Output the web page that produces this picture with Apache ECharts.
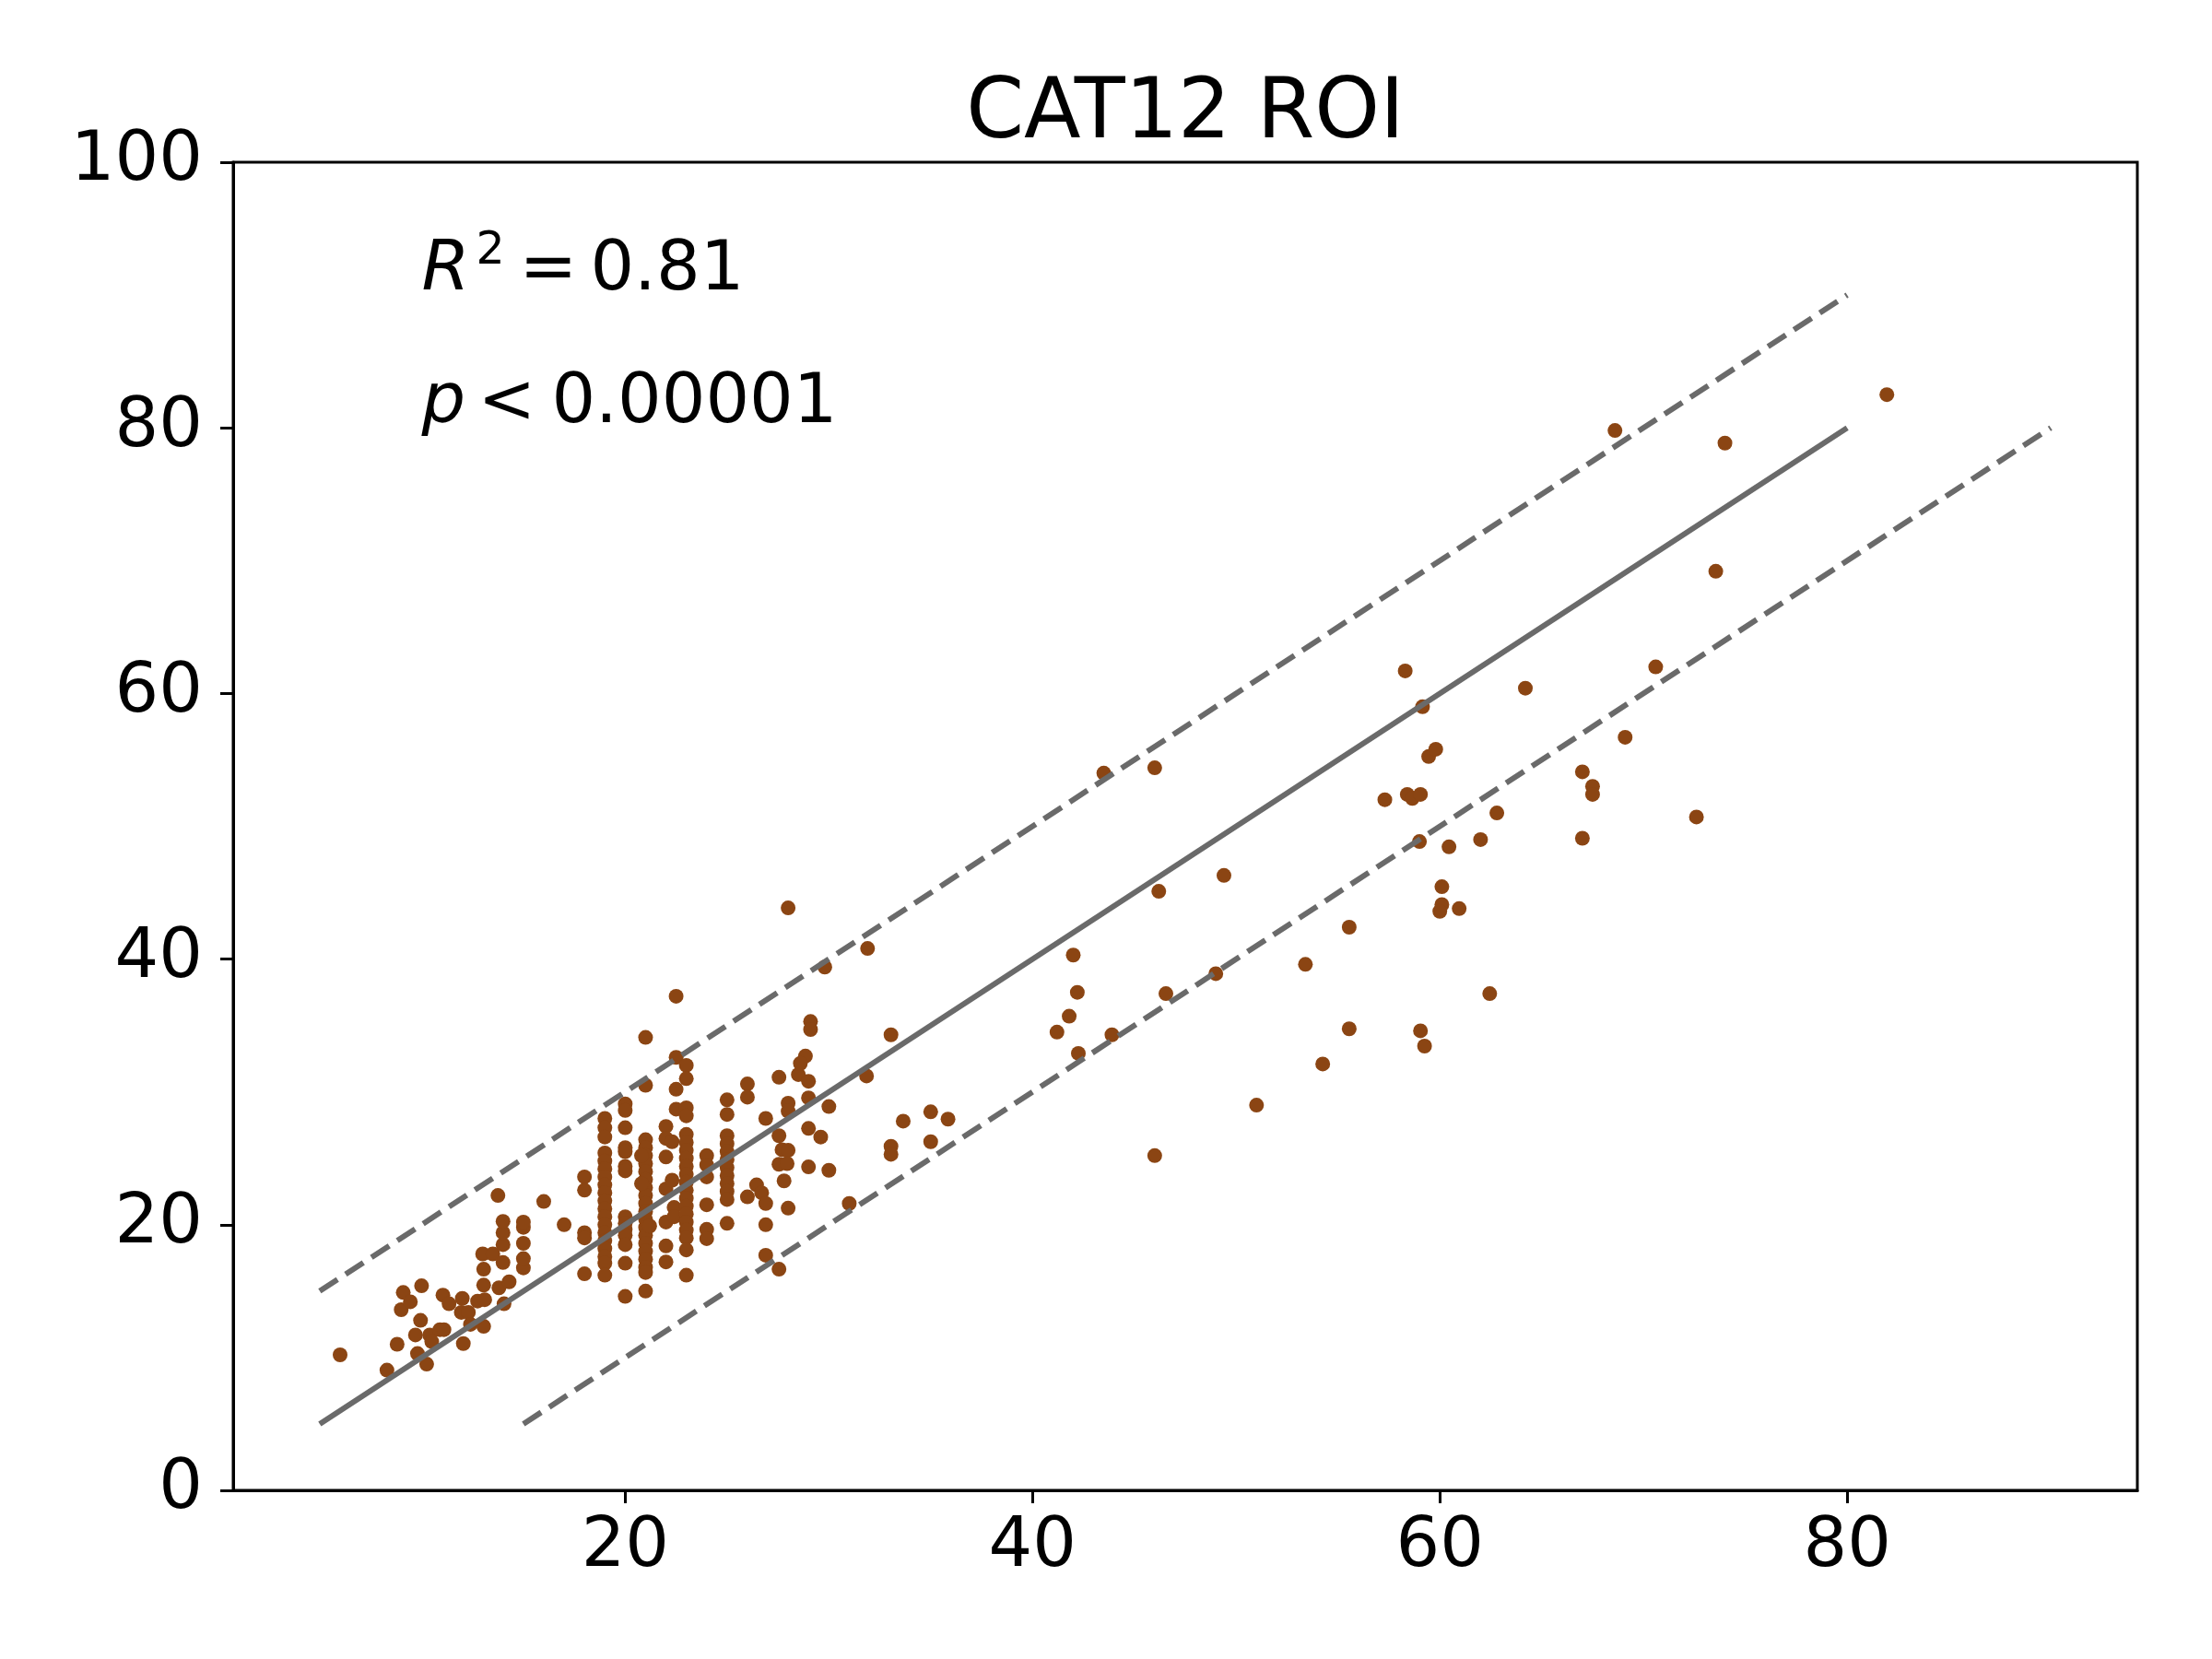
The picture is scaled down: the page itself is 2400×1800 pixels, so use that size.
<!DOCTYPE html>
<html><head><meta charset="utf-8">
<script src="https://cdn.jsdelivr.net/npm/echarts@6/dist/echarts.min.js"></script>
<style>html,body{margin:0;background:#fff}#c{width:2400px;height:1800px}</style>
</head><body><div id="c"></div>
<script>
// ---- data ----
const lowGroup = [
  [6.0,10.2],[8.3,9.05],[8.8,11.0],[9.0,13.6],[9.1,14.9],[9.45,14.2],[9.7,11.7],[9.8,10.3],
  [9.95,12.8],[10.0,15.4],[10.25,9.5],[10.4,11.7],[10.5,11.2],[10.9,12.1],[11.1,12.1],[11.05,14.7],
  [11.35,14.05],[11.95,13.4],[12.0,14.45],[12.05,11.05],[12.3,13.4],[12.4,12.5],[12.75,14.25],
  [13.05,12.35],[13.1,14.35],[13.05,15.45],[13.05,16.65],[13.0,17.8],[13.5,17.8],[13.75,22.2],
  [13.8,15.25],[14.0,17.15],[14.05,14.05],[14.3,15.7],[14.0,18.5],[14.0,19.4],[14.0,20.25],
  [15.0,16.75],[15.0,17.45],[15.0,18.6],[15.0,19.8],[15.0,20.2],[16.0,21.75],[17.0,20.0]
];
const midGroup = [
  [18,23.6],[18,22.6],[18,19.4],[18,19.0],[18,16.3],
  [19,28.0],[19,27.3],[19,26.6],[19,25.4],[19,24.8],[19,24.2],[19,23.6],[19,23.0],[19,22.4],[19,21.8],
  [19,21.2],[19,20.6],[19,20.0],[19,19.4],[19,18.8],[19,18.2],[19,17.6],[19,17.1],[19,16.2],
  [20,29.1],[20,28.6],[20,27.3],[20,25.8],[20,25.5],[20,24.4],[20,24.05],[20,20.6],[20,20.1],
  [20,19.65],[20,19.2],[20,18.5],[20,17.1],[20,14.6],
  [21,34.1],[21,30.5],[21,26.4],[21,25.8],[21,25.2],[21,24.6],[21,24.0],[21,23.4],[21,22.8],[21,22.2],
  [21,21.6],[21,21.0],[21,20.4],[21,19.8],[21,19.2],[21,18.6],[21,18.0],[21,17.4],[21,16.8],[21,16.4],
  [21,15.0],[20.8,25.2],[20.8,23.1],[21.2,19.9],
  [22,27.4],[22,26.5],[22,25.1],[22,22.7],[22,20.2],[22,18.4],[22,17.2],
  [22.3,26.25],[22.3,23.35],[22.4,21.3],[22.4,20.6],
  [22.5,37.2],[22.5,32.6],[22.5,30.2],[22.5,28.7],
  [23,32.0],[23,31.0],[23,28.8],[23,28.2],[23,26.8],[23,26.2],[23,25.6],[23,25.0],[23,24.4],[23,23.8],
  [23,23.2],[23,22.6],[23,22.0],[23,21.4],[23,20.8],[23,20.2],[23,19.6],[23,19.0],[23,18.1],[23,16.2],
  [24,25.2],[24,24.5],[24,23.6],[24,21.5],[24,19.65],[24,18.95],
  [25,29.4],[25,28.3],[25,26.7],[25,26.1],[25,25.5],[25,24.9],[25,24.3],[25,23.7],[25,23.1],[25,22.5],
  [25,21.9],[25,20.1],
  [26,30.6],[26,29.6],[26,22.1],
  [26.45,23.0],[26.7,22.4],[26.9,21.6],[26.9,28.0],[26.9,20.0],[26.9,17.7],
  [27.55,31.1],[28.5,31.3],[29.0,30.8],[28.85,32.7],[28.6,32.15],[29.1,35.3],[29.1,34.7],[28.0,43.85],
  [29.8,39.4],[31.9,40.8],[33.05,34.3],[31.85,31.2],[28.0,29.15],[28.0,28.55],[29.0,29.55],[30.0,28.9],
  [29.0,27.25],[29.6,26.6],[27.55,26.7],[27.7,25.65],[28.0,25.6],[27.55,24.55],[27.95,24.6],[29.0,24.35],
  [30.0,24.1],[27.8,23.3],[28.0,21.25],[31.0,21.6],[33.65,27.8],[35.0,28.5],[35.85,27.95],[35.0,26.25],
  [33.05,25.9],[33.05,25.3],[27.55,16.65]
];
const highGroup = [
  [43.5,54.0],[46.0,54.4],[46.2,45.1],[49.4,46.3],[42.0,40.3],[42.2,37.5],[41.8,35.7],[41.2,34.5],
  [42.25,32.9],[43.9,34.3],[46.55,37.4],[49.0,38.9],[46.0,25.2],[51.0,29.0],[53.4,39.6],[55.55,42.4],
  [54.25,32.1],[55.55,34.75],[57.3,52.0],[58.3,61.7],[58.4,52.4],[58.65,52.1],[59.05,52.4],[59.15,59.0],
  [59.45,55.25],[59.8,55.8],[59.0,48.85],[60.45,48.45],[60.1,45.45],[60.1,44.1],[60.0,43.6],[60.95,43.8],
  [59.05,34.6],[59.25,33.45],[62.0,49.0],[62.8,51.0],[62.45,37.4],[64.2,60.4],[67.0,54.1],[67.5,53.0],
  [67.5,52.4],[67.0,49.1],[69.1,56.7],[68.6,79.8],[70.6,62.0],[72.6,50.7],[73.55,69.2],[74.0,78.85],
  [81.95,82.5]
];
const identityX = [5, 80], identityY = [5, 80];
const upperX = [5, 80], upperY = [15, 90];
const lowerX = [15, 90], lowerY = [5, 80];
const xRange = [0.75, 94.25];
const xTicks = [20, 40, 60, 80];
const yRange = [0, 100];
const yStep = 20;
const titleText = 'CAT12 ROI';
const r2Value = '0.81';
const pValue = '0.00001';

// ---- chart ----
const FONT = 'DejaVu Sans';
const GRAY = '#6a6a6a';
const BROWN = '#8B4513';
const chart = echarts.init(document.getElementById('c'), null, {renderer: 'canvas'});
const zip = (xs, ys) => xs.map((x, i) => [x, ys[i]]);
const axisCommon = {
  axisLine: {show: true, onZero: false, lineStyle: {color: '#000', width: 3}},
  axisTick: {show: true, inside: false, length: 14, lineStyle: {color: '#000', width: 3}},
  splitLine: {show: false},
};
chart.setOption({
  animation: false,
  backgroundColor: '#fff',
  grid: {left: 253, right: 81, top: 176, bottom: 183, show: true, borderColor: '#000', borderWidth: 3, backgroundColor: 'transparent'},
  xAxis: Object.assign({}, axisCommon, {
    type: 'value', min: xRange[0], max: xRange[1],
    axisTick: Object.assign({}, axisCommon.axisTick, {customValues: xTicks}),
    axisLabel: {customValues: xTicks, fontFamily: FONT, fontSize: 75, color: '#000', margin: 25},
  }),
  yAxis: Object.assign({}, axisCommon, {
    type: 'value', min: yRange[0], max: yRange[1], interval: yStep,
    axisLabel: {fontFamily: FONT, fontSize: 75, color: '#000', margin: 33},
  }),
  series: [
    {type: 'scatter', data: lowGroup.concat(midGroup, highGroup), symbolSize: 16,
     itemStyle: {color: BROWN, opacity: 1}, z: 2},
    {type: 'line', data: zip(identityX, identityY), symbol: 'none', lineStyle: {color: GRAY, width: 6}, z: 3},
    {type: 'line', data: zip(upperX, upperY), symbol: 'none', lineStyle: {color: GRAY, width: 6, type: [23, 10.5]}, z: 3},
    {type: 'line', data: zip(lowerX, lowerY), symbol: 'none', lineStyle: {color: GRAY, width: 6, type: [23, 10.5]}, z: 3},
  ]
});

const a1 = chart.convertToPixel({gridIndex: 0}, [10, 90]);
const a2 = chart.convertToPixel({gridIndex: 0}, [10, 80]);
const mid = 26;
const txt = (x, y, text, size, extra) => ({
  type: 'text', x: x, y: y, z: 10,
  style: Object.assign({text: text, fontFamily: FONT, fontSize: size, fill: '#000', align: 'left', verticalAlign: 'middle'}, extra || {})
});
const gridCenterX = (253 + (2400 - 81)) / 2;
chart.setOption({
  graphic: [
    txt(gridCenterX, 126, titleText, 90, {align: 'center'}),
    txt(a1[0], a1[1] - mid, 'R', 75, {fontStyle: 'italic'}),
    txt(a1[0] + 59, a1[1] - 47, '2', 49),
    txt(a1[0] + 106, a1[1] - mid, '=', 75),
    txt(a1[0] + 183, a1[1] - mid, r2Value, 75),
    txt(a2[0], a2[1] - mid, 'p', 75, {fontStyle: 'italic'}),
    txt(a2[0] + 61, a2[1] - mid, '<', 75),
    txt(a2[0] + 141, a2[1] - mid, pValue, 75),
  ]
});
</script></body></html>
